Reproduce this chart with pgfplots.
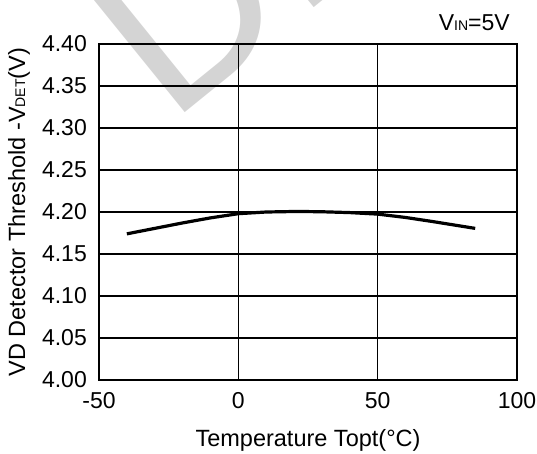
\documentclass[border=0pt]{standalone}
\usepackage{pgfplots}
\pgfplotsset{compat=1.18}
\usepackage{fontspec}
\setmainfont{Liberation Sans}
\pgfplotstableread{
T V
-40 4.1740
-30 4.1805
-20 4.1870
-10 4.1930
0 4.1980
10 4.2000
20 4.2006
25 4.2005
30 4.2003
40 4.1993
50 4.1975
60 4.1935
70 4.1885
85 4.1805
}\datatable
\begin{document}
\begin{tikzpicture}[x=1pt,y=1pt]
\useasboundingbox (0,0) rectangle (537,-453);
\begin{scope}[shift={(185,-113)}, rotate=39, transform shape]
\node[anchor=base west, inner sep=0, outer sep=0, text=black!17, font=\fontsize{230}{230}\selectfont] at (-18.2,0) {DRAFT};
\end{scope}
\begin{axis}[
  at={(99pt,-380pt)}, anchor=south west,
  scale only axis, width=418pt, height=336pt,
  xmin=-50, xmax=100, ymin=4.0, ymax=4.4,
  xtick={-50,0,50,100}, xticklabels={-50,0,50,100},
  ytick={4.00,4.05,4.10,4.15,4.20,4.25,4.30,4.35,4.40},
  yticklabels={4.00,4.05,4.10,4.15,4.20,4.25,4.30,4.35,4.40},
  grid=major, major grid style={black, line width=1.2pt},
  axis line style={black, line width=1.3pt},
  major tick length=0pt,
  tick label style={font=\fontsize{23}{27}\selectfont, inner sep=0pt},
  xticklabel style={anchor=north, yshift=-12pt},
  yticklabel style={anchor=east, xshift=-12pt},
  label style={font=\fontsize{23.5}{27}\selectfont},
  xlabel={Temperature Topt(°C)},
  ylabel={VD Detector Threshold -V{\fontsize{14}{14}\selectfont DET}(V)},
  xlabel style={at={(axis description cs:0.5,-0.1964)}, anchor=base, inner sep=0pt},
  ylabel style={at={(axis description cs:-0.177,0.5)}, anchor=base, inner sep=0pt},
]
\addplot[black, line width=3.2pt, no marks] table[x=T, y=V] {\datatable};
\end{axis}
\node[anchor=base east, inner sep=0, font=\fontsize{23}{27}\selectfont] at (510,-30) {V{\fontsize{14}{14}\selectfont IN}=5V};
\end{tikzpicture}
\end{document}
